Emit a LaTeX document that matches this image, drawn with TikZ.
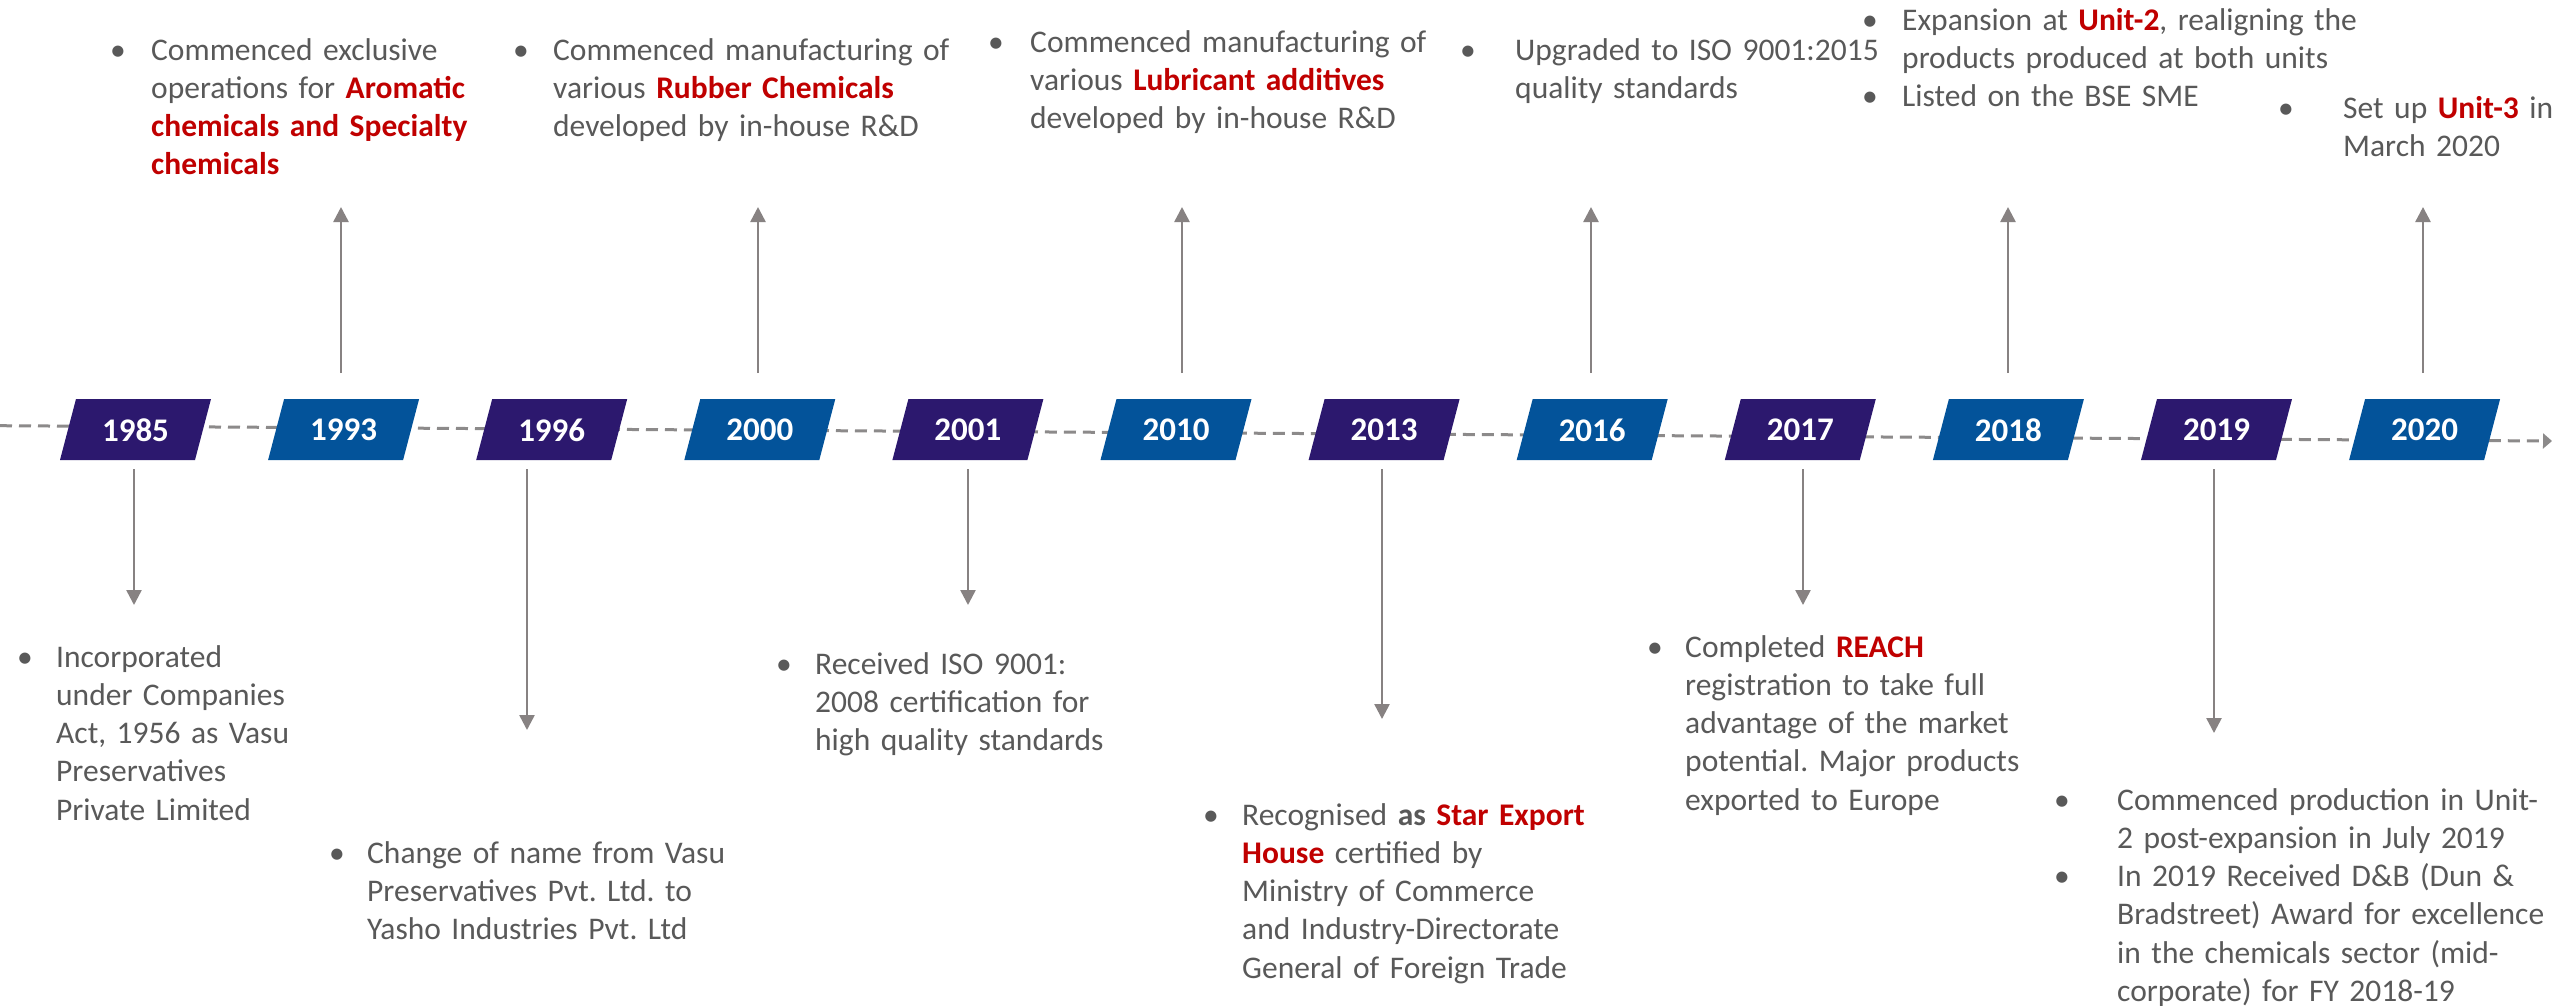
\documentclass[tikz,border=0pt]{standalone}
\usepackage{fontspec}
\setmainfont{Carlito}
\usetikzlibrary{arrows.meta}
\definecolor{txtgrey}{HTML}{595959}
\definecolor{hlred}{HTML}{C00000}
\definecolor{purp}{HTML}{2C186E}
\definecolor{blu}{HTML}{03539A}
\definecolor{arrowgrey}{HTML}{878282}
\definecolor{dashgrey}{HTML}{8C8A8A}
\newcommand\hlt[1]{\textbf{\textcolor{hlred}{#1}}}
\frenchspacing
\begin{document}
\begin{tikzpicture}[x=1pt,y=-1pt,
  blk/.style={anchor=base west, inner sep=0pt, text width=480pt, align=left,
    font=\fontsize{31.5}{38.3}\selectfont, text=txtgrey},
  bul/.style={anchor=base, inner sep=0pt, font=\fontsize{31.5}{38.3}\selectfont, text=txtgrey},
  yearlbl/.style={inner sep=0pt, text=white, font=\fontsize{33}{40}\selectfont\bfseries},
  conn/.style={draw=arrowgrey, line width=2.5pt, -{Triangle[length=15pt,width=15pt]}},
  timeline/.style={draw=dashgrey, line width=3pt, dash pattern=on 12pt off 7pt,
    -{Triangle[length=9pt,width=15pt]}}]
\useasboundingbox[fill=white] (0,0) rectangle (2552,1005);

% timeline
\coordinate (tlstart) at (0,425.7);
\coordinate (tlend) at (2552,441);
\draw[timeline] (tlstart) -- (tlend);

% year boxes
\foreach \yr/\col [count=\i from 0] in {1985/purp,1993/blu,1996/purp,2000/blu,2001/purp,2010/blu,2013/purp,2016/blu,2017/purp,2018/blu,2019/purp,2020/blu}{
  \pgfmathsetmacro\cx{135.5+\i*208.1}
  \fill[\col] (\cx-59.5,399) -- (\cx+75.5,399) -- (\cx+59.5,460) -- (\cx-75.5,460) -- cycle;
  \node[yearlbl] (y\yr) at (\cx,430) {\yr};
}

% up arrows
\foreach \nm/\xx in {1993/341,2000/758,2010/1182,2016/1591,2018/2008,2020/2423}{
  \coordinate (us\nm) at (\xx,373);
  \coordinate (ue\nm) at (\xx,207);
  \draw[conn] (us\nm) -- (ue\nm);
}
% down arrows
\foreach \nm/\xx/\yy in {1985/134/605,1996/527/730,2001/968/605,2013/1382/719,2017/1803/605,2019/2214/733}{
  \coordinate (ds\nm) at (\xx,469);
  \coordinate (de\nm) at (\xx,\yy);
  \draw[conn] (ds\nm) -- (de\nm);
}

% top texts
\node[bul] (b1993) at (118,60) {•};
\node[blk] (t1993) at (151,60) {Commenced exclusive\\operations for \hlt{Aromatic}\\\hlt{chemicals and Specialty}\\\hlt{chemicals}};

\node[bul] (b2000) at (521,60) {•};
\node[blk] (t2000) at (553,60) {Commenced manufacturing of\\various \hlt{Rubber Chemicals}\\developed by in-house R\&D};

\node[bul] (b2010) at (996,52) {•};
\node[blk] (t2010) at (1030,52) {Commenced manufacturing of\\various \hlt{Lubricant additives}\\developed by in-house R\&D};

\node[bul] (b2016) at (1468,60) {•};
\node[blk] (t2016) at (1515,60) {Upgraded to ISO 9001:2015\\quality standards};

\node[bul] (b2018a) at (1870,30) {•};
\node[bul] (b2018b) at (1870,106.6) {•};
\node[blk] (t2018) at (1902,30) {Expansion at \hlt{Unit-2}, realigning the\\products produced at both units\\Listed on the BSE SME};

\node[bul] (b2020) at (2286,118) {•};
\node[blk] (t2020) at (2343,118) {Set up \hlt{Unit-3} in\\March 2020};

% bottom texts
\node[bul] (b1985) at (25,667) {•};
\node[blk] (t1985) at (56,667) {Incorporated\\under Companies\\Act, 1956 as Vasu\\Preservatives\\Private Limited};

\node[bul] (b1996) at (337,863) {•};
\node[blk] (t1996) at (367,863) {Change of name from Vasu\\Preservatives Pvt. Ltd. to\\Yasho Industries Pvt. Ltd};

\node[bul] (b2001) at (784,674) {•};
\node[blk] (t2001) at (815,674) {Received ISO 9001:\\2008 certification for\\high quality standards};

\node[bul] (b2013) at (1211,825) {•};
\node[blk] (t2013) at (1242,825) {Recognised \textbf{as} \hlt{Star Export}\\\hlt{House} certified by\\Ministry of Commerce\\and Industry-Directorate\\General of Foreign Trade};

\node[bul] (b2017) at (1655,657) {•};
\node[blk] (t2017) at (1685,657) {Completed \hlt{REACH}\\registration to take full\\advantage of the market\\potential. Major products\\exported to Europe};

\node[bul] (b2019a) at (2062,810) {•};
\node[bul] (b2019b) at (2062,886.6) {•};
\node[blk] (t2019) at (2117,810) {Commenced production in Unit-\\2 post-expansion in July 2019\\In 2019 Received D\&B (Dun \&\\Bradstreet) Award for excellence\\in the chemicals sector (mid-\\corporate) for FY 2018-19};
\end{tikzpicture}
\end{document}
